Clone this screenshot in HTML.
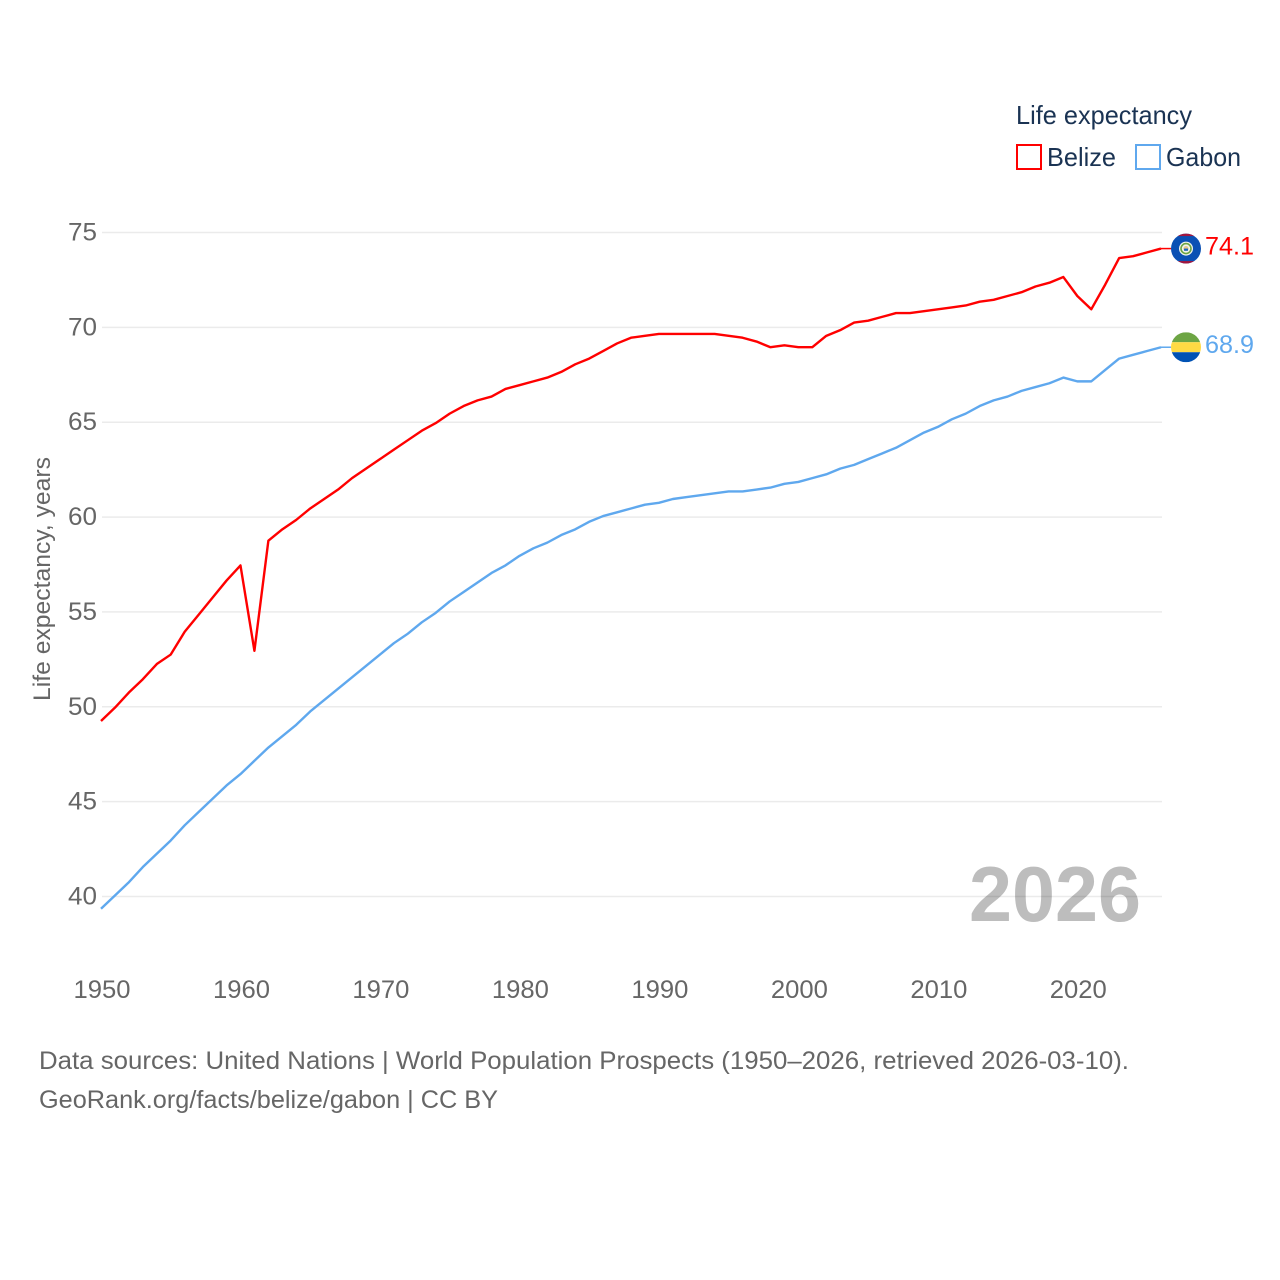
<!DOCTYPE html>
<html lang="en">
<head>
<meta charset="utf-8">
<title>Life expectancy: Belize and Gabon</title>
<style>
html,body{margin:0;padding:0;background:#fff;width:1280px;height:1280px;overflow:hidden}
svg{display:block;font-family:"Liberation Sans",sans-serif}
</style>
</head>
<body>
<svg id="chart" xmlns="http://www.w3.org/2000/svg" width="1280" height="1280" viewBox="0 0 1280 1280">
  <defs>
    <clipPath id="flag-clip"><circle cx="0" cy="0" r="15"></circle></clipPath>
  </defs>
  <rect width="1280" height="1280" fill="#fff"></rect>
  <text x="969" y="921" font-size="78" font-weight="700" fill="#bdbdbd" textLength="172" lengthAdjust="spacingAndGlyphs">2026</text>
  <g id="grid"></g>
  <g id="y-ticks"></g>
  <g id="x-ticks"></g>
  <text transform="translate(50 701) rotate(-90)" font-size="24" fill="#666" textLength="244" lengthAdjust="spacingAndGlyphs">Life expectancy, years</text>
  <g id="series"></g>
  <g id="end-markers"></g>
  <g>
    <text x="1016" y="124" font-size="26" fill="#1a3353" textLength="176" lengthAdjust="spacingAndGlyphs">Life expectancy</text>
    <g>
      <rect x="1017" y="145" width="24" height="24" fill="#fff" stroke="#ff0000" stroke-width="2"></rect>
      <text x="1047" y="166" font-size="26" fill="#1a3353" textLength="69" lengthAdjust="spacingAndGlyphs">Belize</text>
    </g>
    <g>
      <rect x="1136" y="145" width="24" height="24" fill="#fff" stroke="#5fa8ee" stroke-width="2"></rect>
      <text x="1166" y="166" font-size="26" fill="#1a3353" textLength="75" lengthAdjust="spacingAndGlyphs">Gabon</text>
    </g>
  </g>
  <text x="39" y="1069" font-size="25" fill="#666" textLength="1090" lengthAdjust="spacingAndGlyphs">Data sources: United Nations | World Population Prospects (1950–2026, retrieved 2026-03-10).</text>
  <text x="39" y="1108" font-size="25" fill="#666" textLength="459" lengthAdjust="spacingAndGlyphs">GeoRank.org/facts/belize/gabon | CC BY</text>
</svg>
<script>
const startYear = 1950;
const xTickLabels = [1950, 1960, 1970, 1980, 1990, 2000, 2010, 2020];
const yTickLabels = [40, 45, 50, 55, 60, 65, 70, 75];
const belizeValues = [
  49.2, 49.9, 50.7, 51.4, 52.2, 52.7, 53.9, 54.8, 55.7, 56.6,
  57.4, 52.9, 58.7, 59.3, 59.8, 60.4, 60.9, 61.4, 62.0, 62.5,
  63.0, 63.5, 64.0, 64.5, 64.9, 65.4, 65.8, 66.1, 66.3, 66.7,
  66.9, 67.1, 67.3, 67.6, 68.0, 68.3, 68.7, 69.1, 69.4, 69.5,
  69.6, 69.6, 69.6, 69.6, 69.6, 69.5, 69.4, 69.2, 68.9, 69.0,
  68.9, 68.9, 69.5, 69.8, 70.2, 70.3, 70.5, 70.7, 70.7, 70.8,
  70.9, 71.0, 71.1, 71.3, 71.4, 71.6, 71.8, 72.1, 72.3, 72.6,
  71.6, 70.9, 72.2, 73.6, 73.7, 73.9, 74.1
];
const gabonValues = [
  39.3, 40.0, 40.7, 41.5, 42.2, 42.9, 43.7, 44.4, 45.1, 45.8,
  46.4, 47.1, 47.8, 48.4, 49.0, 49.7, 50.3, 50.9, 51.5, 52.1,
  52.7, 53.3, 53.8, 54.4, 54.9, 55.5, 56.0, 56.5, 57.0, 57.4,
  57.9, 58.3, 58.6, 59.0, 59.3, 59.7, 60.0, 60.2, 60.4, 60.6,
  60.7, 60.9, 61.0, 61.1, 61.2, 61.3, 61.3, 61.4, 61.5, 61.7,
  61.8, 62.0, 62.2, 62.5, 62.7, 63.0, 63.3, 63.6, 64.0, 64.4,
  64.7, 65.1, 65.4, 65.8, 66.1, 66.3, 66.6, 66.8, 67.0, 67.3,
  67.1, 67.1, 67.7, 68.3, 68.5, 68.7, 68.9
];

const NS = 'http://www.w3.org/2000/svg';
const xScale = function (year) { return 102 + (year - 1950) * (1060 / 76); };
const yScale = function (value) { return 232.5 + (75 - value) * (664 / 35); };
const lineX = function (year) { return xScale(year) - 1; };
const lineY = function (value) { return yScale(value) - 1; };

function make(parent, tag, attrs, text) {
  const el = document.createElementNS(NS, tag);
  Object.keys(attrs).forEach(function (k) { el.setAttribute(k, attrs[k]); });
  if (text !== undefined) el.textContent = text;
  parent.appendChild(el);
  return el;
}

const gridGroup = document.getElementById('grid');
const yTickGroup = document.getElementById('y-ticks');
const xTickGroup = document.getElementById('x-ticks');
const seriesGroup = document.getElementById('series');
const markerGroup = document.getElementById('end-markers');

yTickLabels.forEach(function (tick) {
  const y = yScale(tick);
  const line = make(gridGroup, 'line', { x1: 102, x2: 1162, y1: y, y2: y, stroke: 'rgba(0,0,0,0.08)', 'stroke-width': 1.5 });
  
  
  const label = make(yTickGroup, 'text', { x: 97, y: y + 8, 'font-size': 25, fill: '#666', 'text-anchor': 'end', textLength: 29, lengthAdjust: 'spacingAndGlyphs' }, String(tick));
  
  
});

xTickLabels.forEach(function (tick) {
  const label = make(xTickGroup, 'text', { x: xScale(tick), y: 998, 'font-size': 25, fill: '#666', 'text-anchor': 'middle', textLength: 57, lengthAdjust: 'spacingAndGlyphs' }, String(tick));
  
  
});

function linePoints(values) {
  return values.map(function (v, i) {
    return lineX(startYear + i).toFixed(2) + ',' + lineY(v).toFixed(2);
  }).join(' ');
}

const belizeLine = make(seriesGroup, 'polyline', { points: linePoints(belizeValues), fill: 'none', stroke: '#ff0000', 'stroke-width': 2.4, 'stroke-linejoin': 'round' });



const gabonLine = make(seriesGroup, 'polyline', { points: linePoints(gabonValues), fill: 'none', stroke: '#5fa8ee', 'stroke-width': 2.4, 'stroke-linejoin': 'round' });



const lastYear = startYear + belizeValues.length - 1;
const endX = lineX(lastYear);

/* Belize end marker */
const belizeValue = belizeValues[belizeValues.length - 1];
const belizeY = lineY(belizeValue);
const belizeConnector = make(markerGroup, 'line', { x1: endX, x2: 1171, y1: belizeY, y2: belizeY, stroke: '#ff0000', 'stroke-width': 1.5 });


const belizeFlag = make(markerGroup, 'g', { transform: 'translate(1186 ' + belizeY + ')', 'clip-path': 'url(#flag-clip)' });


make(belizeFlag, 'rect', { x: -15, y: -15, width: 30, height: 30, fill: '#0a50b4' });
make(belizeFlag, 'rect', { x: -15, y: -15, width: 30, height: 2.5, fill: '#a2163f' });
make(belizeFlag, 'rect', { x: -15, y: 12.5, width: 30, height: 2.5, fill: '#a2163f' });
make(belizeFlag, 'circle', { cx: 0, cy: 0, r: 7, fill: '#f2f4ee' });
make(belizeFlag, 'circle', { cx: 0, cy: 0, r: 5, fill: 'none', stroke: '#6da544', 'stroke-width': 1.6 });
make(belizeFlag, 'circle', { cx: 0, cy: 0, r: 2.6, fill: '#e6c98a' });
make(belizeFlag, 'rect', { x: -2, y: 0, width: 4, height: 2.2, fill: '#1a66c4' });
const belizeLabel = make(markerGroup, 'text', { x: 1205, y: belizeY + 6, 'font-size': 25, fill: '#ff0000', textLength: 49, lengthAdjust: 'spacingAndGlyphs' }, belizeValue.toFixed(1));



/* Gabon end marker */
const gabonValue = gabonValues[gabonValues.length - 1];
const gabonY = lineY(gabonValue);
const gabonConnector = make(markerGroup, 'line', { x1: endX, x2: 1171, y1: gabonY, y2: gabonY, stroke: '#5fa8ee', 'stroke-width': 1.5 });


const gabonFlag = make(markerGroup, 'g', { transform: 'translate(1186 ' + gabonY + ')', 'clip-path': 'url(#flag-clip)' });


make(gabonFlag, 'rect', { x: -15, y: -15, width: 30, height: 10, fill: '#6da544' });
make(gabonFlag, 'rect', { x: -15, y: -5, width: 30, height: 10, fill: '#ffda44' });
make(gabonFlag, 'rect', { x: -15, y: 5, width: 30, height: 10, fill: '#0052b4' });
const gabonLabel = make(markerGroup, 'text', { x: 1205, y: gabonY + 6, 'font-size': 25, fill: '#5fa8ee', textLength: 49, lengthAdjust: 'spacingAndGlyphs' }, gabonValue.toFixed(1));


</script>
</body>
</html>
